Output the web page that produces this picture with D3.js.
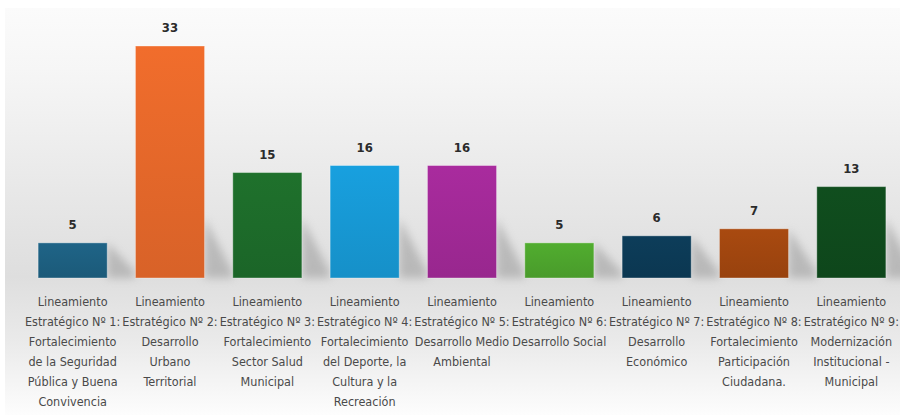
<!DOCTYPE html>
<html>
<head>
<meta charset="utf-8">
<script src="https://cdn.jsdelivr.net/npm/d3@7"></script>
<style>
  html, body { margin: 0; padding: 0; background: #fff; }
  svg { display: block; }
  .cat { font-family: "Liberation Sans Narrow", "DejaVu Sans Condensed", sans-serif; font-size: 12.5px; fill: #4a4a4a; }
  .val { font-family: "Liberation Sans Narrow", "DejaVu Sans Condensed", sans-serif; font-size: 13px; font-weight: bold; fill: #2b2b2b; }
</style>
</head>
<body>
<div id="chart"></div>
<script>
// categories (label lines split with "|")
const categories = [
  "Lineamiento|Estratégico Nº 1:|Fortalecimiento|de la Seguridad|Pública y Buena|Convivencia",
  "Lineamiento|Estratégico Nº 2:|Desarrollo|Urbano|Territorial",
  "Lineamiento|Estratégico Nº 3:|Fortalecimiento|Sector Salud|Municipal",
  "Lineamiento|Estratégico Nº 4:|Fortalecimiento|del Deporte, la|Cultura y la|Recreación",
  "Lineamiento|Estratégico Nº 5:|Desarrollo Medio|Ambiental",
  "Lineamiento|Estratégico Nº 6:|Desarrollo Social",
  "Lineamiento|Estratégico Nº 7:|Desarrollo|Económico",
  "Lineamiento|Estratégico Nº 8:|Fortalecimiento|Participación|Ciudadana.",
  "Lineamiento|Estratégico Nº 9:|Modernización|Institucional -|Municipal"
];
const values = [5, 33, 15, 16, 16, 5, 6, 7, 13];
const colors = ["#1d5f80", "#e4672a", "#1d6b2a", "#1798d3", "#a02996", "#4da42d", "#0c3a55", "#a0460f", "#0f4a1c"];

const W = 900, H = 415;
const base = 278;

const svg = d3.select("#chart").append("svg")
    .attr("width", W)
    .attr("height", H);

const defs = svg.append("defs");

// background panel gradient
const bg = defs.append("linearGradient")
    .attr("id", "bg")
    .attr("x1", 0).attr("y1", 0).attr("x2", 0).attr("y2", 1);
bg.append("stop").attr("offset", "0%").attr("stop-color", "#fbfbfb");
bg.append("stop").attr("offset", "15%").attr("stop-color", "#f6f6f6");
bg.append("stop").attr("offset", "66%").attr("stop-color", "#dedede");
bg.append("stop").attr("offset", "82%").attr("stop-color", "#eaeaea");
bg.append("stop").attr("offset", "100%").attr("stop-color", "#fdfdfd");

const blur = defs.append("filter").attr("id", "blur")
    .attr("x", "-50%").attr("y", "-50%").attr("width", "200%").attr("height", "200%");
blur.append("feGaussianBlur").attr("stdDeviation", 4);

colors.forEach(function(c, i) {
  const g = defs.append("linearGradient")
      .attr("id", "bar" + i)
      .attr("x1", 0).attr("y1", 0).attr("x2", 0).attr("y2", 1);
  g.append("stop").attr("offset", "0%").attr("stop-color", d3.color(c).brighter(0.15));
  g.append("stop").attr("offset", "100%").attr("stop-color", d3.color(c).darker(0.15));
});

svg.append("rect")
    .attr("x", 5).attr("y", 8)
    .attr("width", W - 5).attr("height", H - 8)
    .attr("fill", "url(#bg)");

const x = d3.scaleBand()
    .domain(d3.range(categories.length))
    .range([24, 900])
    .paddingInner(0.29)
    .paddingOuter(0.145);

const y = d3.scaleLinear()
    .domain([0, 33])
    .range([base, 46]);

// soft shadows to the right of each bar
svg.append("g").selectAll("path")
    .data(values)
    .enter().append("path")
    .attr("d", function(d, i) {
      const x1 = x(i) + x.bandwidth();
      const h = Math.min(base - y(d), 60);
      return "M" + x1 + "," + base + "L" + x1 + "," + (base - h) +
             "L" + (x1 + 28) + "," + (base - 6) + "L" + (x1 + 28) + "," + base + "Z";
    })
    .attr("fill", "#9a9a9a")
    .attr("opacity", 0.55)
    .attr("filter", "url(#blur)");

svg.append("g").selectAll("rect")
    .data(values)
    .enter().append("rect")
    .attr("x", function(d, i) { return x(i); })
    .attr("y", function(d) { return y(d); })
    .attr("width", x.bandwidth())
    .attr("height", function(d) { return base - y(d); })
    .attr("fill", function(d, i) { return "url(#bar" + i + ")"; })
    .attr("stroke", "rgba(255,255,255,0.35)")
    .attr("stroke-width", 1);

svg.append("g").selectAll("text")
    .data(values)
    .enter().append("text")
    .attr("class", "val")
    .attr("x", function(d, i) { return x(i) + x.bandwidth() / 2; })
    .attr("y", function(d) { return y(d) - 14; })
    .attr("text-anchor", "middle")
    .text(function(d) { return d; });

const labels = svg.append("g").selectAll("text")
    .data(categories)
    .enter().append("text")
    .attr("class", "cat")
    .attr("text-anchor", "middle")
    .attr("x", function(d, i) { return x(i) + x.bandwidth() / 2; })
    .attr("y", 306);

labels.selectAll("tspan")
    .data(function(d, i) { return d.split("|").map(function(t) { return {t: t, i: i}; }); })
    .enter().append("tspan")
    .attr("x", function(d) { return x(d.i) + x.bandwidth() / 2; })
    .attr("dy", function(d, k) { return k === 0 ? 0 : 20; })
    .text(function(d) { return d.t; });
</script>
</body>
</html>
